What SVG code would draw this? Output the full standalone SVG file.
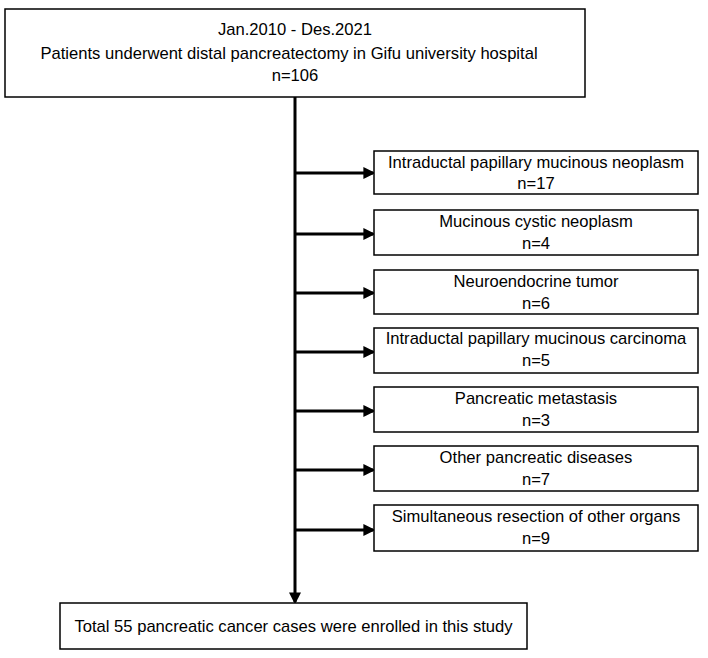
<svg xmlns="http://www.w3.org/2000/svg" width="708" height="658" viewBox="0 0 708 658">
<style>
.box{fill:#fff;stroke:#000;stroke-width:1.5}
.t{font-family:"Liberation Sans",Arial,sans-serif;font-size:16.6px;fill:#000;text-anchor:middle}
.c{stroke:#000;stroke-width:3;fill:none}
</style>
<defs>
<marker id="ah" markerWidth="4" markerHeight="4" refX="3.2" refY="2" orient="auto" markerUnits="strokeWidth">
<path d="M0,0 L4,2 L0,4 Z" fill="#000"/>
</marker>
</defs>
<rect width="708" height="658" fill="#fff"/>
<g id="connectors">
<line class="c" x1="295" y1="97" x2="295" y2="602" marker-end="url(#ah)"/>
<line class="c" x1="295" y1="173" x2="373" y2="173" marker-end="url(#ah)"/>
<line class="c" x1="295" y1="234" x2="373" y2="234" marker-end="url(#ah)"/>
<line class="c" x1="295" y1="293" x2="373" y2="293" marker-end="url(#ah)"/>
<line class="c" x1="295" y1="352" x2="373" y2="352" marker-end="url(#ah)"/>
<line class="c" x1="295" y1="411" x2="373" y2="411" marker-end="url(#ah)"/>
<line class="c" x1="295" y1="470" x2="373" y2="470" marker-end="url(#ah)"/>
<line class="c" x1="295" y1="530" x2="373" y2="530" marker-end="url(#ah)"/>
</g>
<g id="top">
<rect class="box" x="5" y="9" width="580" height="88"/>
<text class="t" x="295" y="35">Jan.2010 - Des.2021</text>
<text class="t" x="289" y="59">Patients underwent distal pancreatectomy in Gifu university hospital</text>
<text class="t" x="295" y="81">n=106</text>
</g>
<g id="ipmn">
<rect class="box" x="374" y="151" width="324" height="43"/>
<text class="t" x="536" y="168">Intraductal papillary mucinous neoplasm</text>
<text class="t" x="536" y="189">n=17</text>
</g>
<g id="mcn">
<rect class="box" x="374" y="210" width="324" height="45"/>
<text class="t" x="536" y="227">Mucinous cystic neoplasm</text>
<text class="t" x="536" y="249">n=4</text>
</g>
<g id="net">
<rect class="box" x="374" y="270" width="324" height="44"/>
<text class="t" x="536" y="287">Neuroendocrine tumor</text>
<text class="t" x="536" y="309">n=6</text>
</g>
<g id="ipmc">
<rect class="box" x="374" y="328" width="324" height="45"/>
<text class="t" x="536" y="344">Intraductal papillary mucinous carcinoma</text>
<text class="t" x="536" y="366">n=5</text>
</g>
<g id="meta">
<rect class="box" x="374" y="387" width="324" height="45"/>
<text class="t" x="536" y="404">Pancreatic metastasis</text>
<text class="t" x="536" y="426">n=3</text>
</g>
<g id="other">
<rect class="box" x="374" y="446" width="324" height="45"/>
<text class="t" x="536" y="463">Other pancreatic diseases</text>
<text class="t" x="536" y="485">n=7</text>
</g>
<g id="sim">
<rect class="box" x="374" y="505" width="324" height="46"/>
<text class="t" x="536" y="522">Simultaneous resection of other organs</text>
<text class="t" x="536" y="544">n=9</text>
</g>
<g id="total">
<rect class="box" x="60" y="603" width="467" height="46"/>
<text class="t" x="293.5" y="632">Total 55 pancreatic cancer cases were enrolled in this study</text>
</g>
</svg>
